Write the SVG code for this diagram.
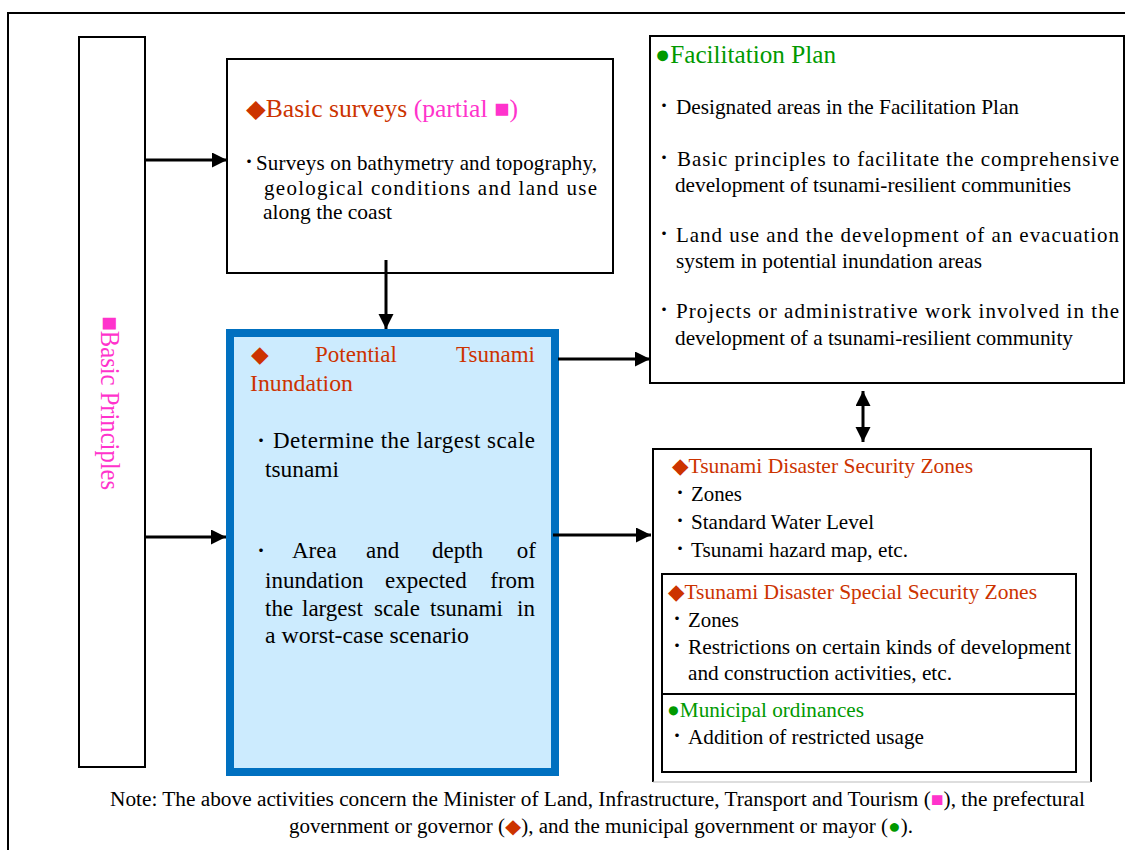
<svg xmlns="http://www.w3.org/2000/svg" width="1125" height="850" viewBox="0 0 1125 850">
<style>
.t{font-family:"Liberation Serif","Times New Roman","DejaVu Serif",serif;fill:#000;}
.k{font-family:"Noto Sans CJK JP",sans-serif;fill:#000;text-anchor:middle;font-size:17px;}
.e{text-anchor:end;}
.b{font-size:21px;}
.bb{font-size:23px;}
.h{font-size:25px;}
.hs{font-size:21.5px;}
.red{fill:#CC3300;}
.grn{fill:#009900;}
.mag{fill:#FF33CC;}
.box{fill:#fff;stroke:#000;stroke-width:2;}
.conn{stroke:#000;stroke-width:3;fill:none;}
</style>
<defs>
<marker id="ah" markerUnits="userSpaceOnUse" markerWidth="16" markerHeight="16" refX="15" refY="7.5" orient="auto-start-reverse">
<path d="M0,0 L15,7.5 L0,15 Z" fill="#000"/>
</marker>
</defs>
<rect width="1125" height="850" fill="#fff"/>
<path d="M8,850 V13 H1125" fill="none" stroke="#000" stroke-width="2"/>

<g id="basic-principles">
<rect class="box" x="79" y="37" width="66" height="730"/>
<text class="t mag" font-size="27" transform="translate(101,316) rotate(90)" textLength="174" lengthAdjust="spacingAndGlyphs">■Basic Principles</text>
</g>

<g id="basic-surveys">
<rect class="box" x="227" y="59" width="386" height="214"/>
<text class="t h" x="246" y="117" textLength="272" lengthAdjust="spacingAndGlyphs"><tspan class="red">◆Basic surveys </tspan><tspan class="mag">(partial ■)</tspan></text>
<text class="k" font-size="14" x="249" y="168">・</text>
<text class="t b" x="256" y="170" textLength="341" lengthAdjust="spacing">Surveys on bathymetry and topography,</text>
<text class="t b" x="264" y="195" textLength="333" lengthAdjust="spacing">geological conditions and land use</text>
<text class="t b" x="263" y="219" textLength="129" lengthAdjust="spacingAndGlyphs">along the coast</text>
</g>

<g id="potential-inundation">
<rect x="230" y="333" width="325" height="439" fill="#CCEBFE" stroke="#0070C0" stroke-width="8"/>
<text class="t red bb" y="362"><tspan x="251">◆</tspan><tspan x="315">Potential</tspan></text>
<text class="t red bb e" x="535" y="362">Tsunami</text>
<text class="t red bb" x="250" y="391" textLength="103" lengthAdjust="spacingAndGlyphs">Inundation</text>
<text class="k" x="261" y="447">・</text>
<text class="t bb" x="273" y="448" textLength="262" lengthAdjust="spacing">Determine the largest scale</text>
<text class="t bb" x="265" y="477" textLength="74" lengthAdjust="spacingAndGlyphs">tsunami</text>
<text class="k" x="261" y="557">・</text>
<text class="t bb" y="558"><tspan x="292">Area</tspan><tspan x="366">and</tspan><tspan x="432">depth</tspan></text>
<text class="t bb e" x="536" y="558">of</text>
<text class="t bb" y="588"><tspan x="265">inundation</tspan><tspan x="385">expected</tspan></text>
<text class="t bb e" x="535" y="588">from</text>
<text class="t bb" y="616"><tspan x="265">the</tspan><tspan x="302">largest</tspan><tspan x="374">scale</tspan><tspan x="430">tsunami</tspan></text>
<text class="t bb e" x="535" y="616">in</text>
<text class="t bb" x="265" y="643" textLength="204" lengthAdjust="spacingAndGlyphs">a worst-case scenario</text>
</g>

<g id="facilitation-plan">
<rect class="box" x="650" y="36" width="474" height="347"/>
<text class="t grn h" x="655" y="63" textLength="181" lengthAdjust="spacingAndGlyphs">●Facilitation Plan</text>
<text class="k" x="664" y="112">・</text>
<text class="t b" x="676" y="114" textLength="343" lengthAdjust="spacingAndGlyphs">Designated areas in the Facilitation Plan</text>
<text class="k" x="664" y="164">・</text>
<text class="t b" x="677" y="166" textLength="442" lengthAdjust="spacing">Basic principles to facilitate the comprehensive</text>
<text class="t b" x="675" y="192" textLength="396" lengthAdjust="spacingAndGlyphs">development of tsunami-resilient communities</text>
<text class="k" x="664" y="240">・</text>
<text class="t b" x="676" y="242" textLength="443" lengthAdjust="spacing">Land use and the development of an evacuation</text>
<text class="t b" x="676" y="268" textLength="306" lengthAdjust="spacingAndGlyphs">system in potential inundation areas</text>
<text class="k" x="664" y="316">・</text>
<text class="t b" x="676" y="318" textLength="443" lengthAdjust="spacing">Projects or administrative work involved in the</text>
<text class="t b" x="675" y="345" textLength="398" lengthAdjust="spacingAndGlyphs">development of a tsunami-resilient community</text>
</g>

<g id="security-zones">
<path d="M653,782 V449 H1091 V782" fill="none" stroke="#000" stroke-width="2"/>
<line x1="653" y1="782" x2="1091" y2="782" stroke="#BBBBBB" stroke-width="1"/>
<text class="t red hs" x="672" y="473" textLength="301" lengthAdjust="spacingAndGlyphs">◆Tsunami Disaster Security Zones</text>
<text class="k" x="680" y="499">・</text>
<text class="t b" x="691" y="501" textLength="51" lengthAdjust="spacingAndGlyphs">Zones</text>
<text class="k" x="680" y="527">・</text>
<text class="t b" x="691" y="529" textLength="183" lengthAdjust="spacingAndGlyphs">Standard Water Level</text>
<text class="k" x="680" y="555">・</text>
<text class="t b" x="691" y="557" textLength="217" lengthAdjust="spacingAndGlyphs">Tsunami hazard map, etc.</text>
</g>

<g id="special-security-zones">
<rect class="box" x="662" y="574" width="414" height="120"/>
<text class="t red hs" x="668" y="599" textLength="369" lengthAdjust="spacingAndGlyphs">◆Tsunami Disaster Special Security Zones</text>
<text class="k" x="677" y="625">・</text>
<text class="t b" x="688" y="627" textLength="51" lengthAdjust="spacingAndGlyphs">Zones</text>
<text class="k" x="677" y="652">・</text>
<text class="t b" x="688" y="654" textLength="383" lengthAdjust="spacingAndGlyphs">Restrictions on certain kinds of development</text>
<text class="t b" x="688" y="680" textLength="264" lengthAdjust="spacingAndGlyphs">and construction activities, etc.</text>
</g>

<g id="municipal-ordinances">
<rect class="box" x="662" y="694" width="414" height="78"/>
<text class="t grn hs" x="667" y="717" textLength="197" lengthAdjust="spacingAndGlyphs">●Municipal ordinances</text>
<text class="k" x="677" y="742">・</text>
<text class="t b" x="688" y="744" textLength="236" lengthAdjust="spacingAndGlyphs">Addition of restricted usage</text>
</g>

<g id="note">
<text class="t" font-size="20" x="110" y="806" textLength="975" lengthAdjust="spacingAndGlyphs">Note: The above activities concern the Minister of Land, Infrastructure, Transport and Tourism (<tspan class="mag">■</tspan>), the prefectural</text>
<text class="t" font-size="20" x="289" y="833" textLength="624" lengthAdjust="spacingAndGlyphs">government or governor (<tspan class="red">◆</tspan>), and the municipal government or mayor (<tspan class="grn">●</tspan>).</text>
</g>

<g id="connectors">
<line class="conn" x1="145" y1="160" x2="227" y2="160" marker-end="url(#ah)"/>
<line class="conn" x1="145" y1="537" x2="226" y2="537" marker-end="url(#ah)"/>
<line class="conn" x1="386" y1="260" x2="386" y2="329" marker-end="url(#ah)"/>
<line class="conn" x1="558" y1="359" x2="650" y2="359" marker-end="url(#ah)"/>
<line class="conn" x1="553" y1="535" x2="651" y2="535" marker-end="url(#ah)"/>
<line class="conn" x1="863" y1="391" x2="863" y2="442" marker-start="url(#ah)" marker-end="url(#ah)"/>
</g>
</svg>
